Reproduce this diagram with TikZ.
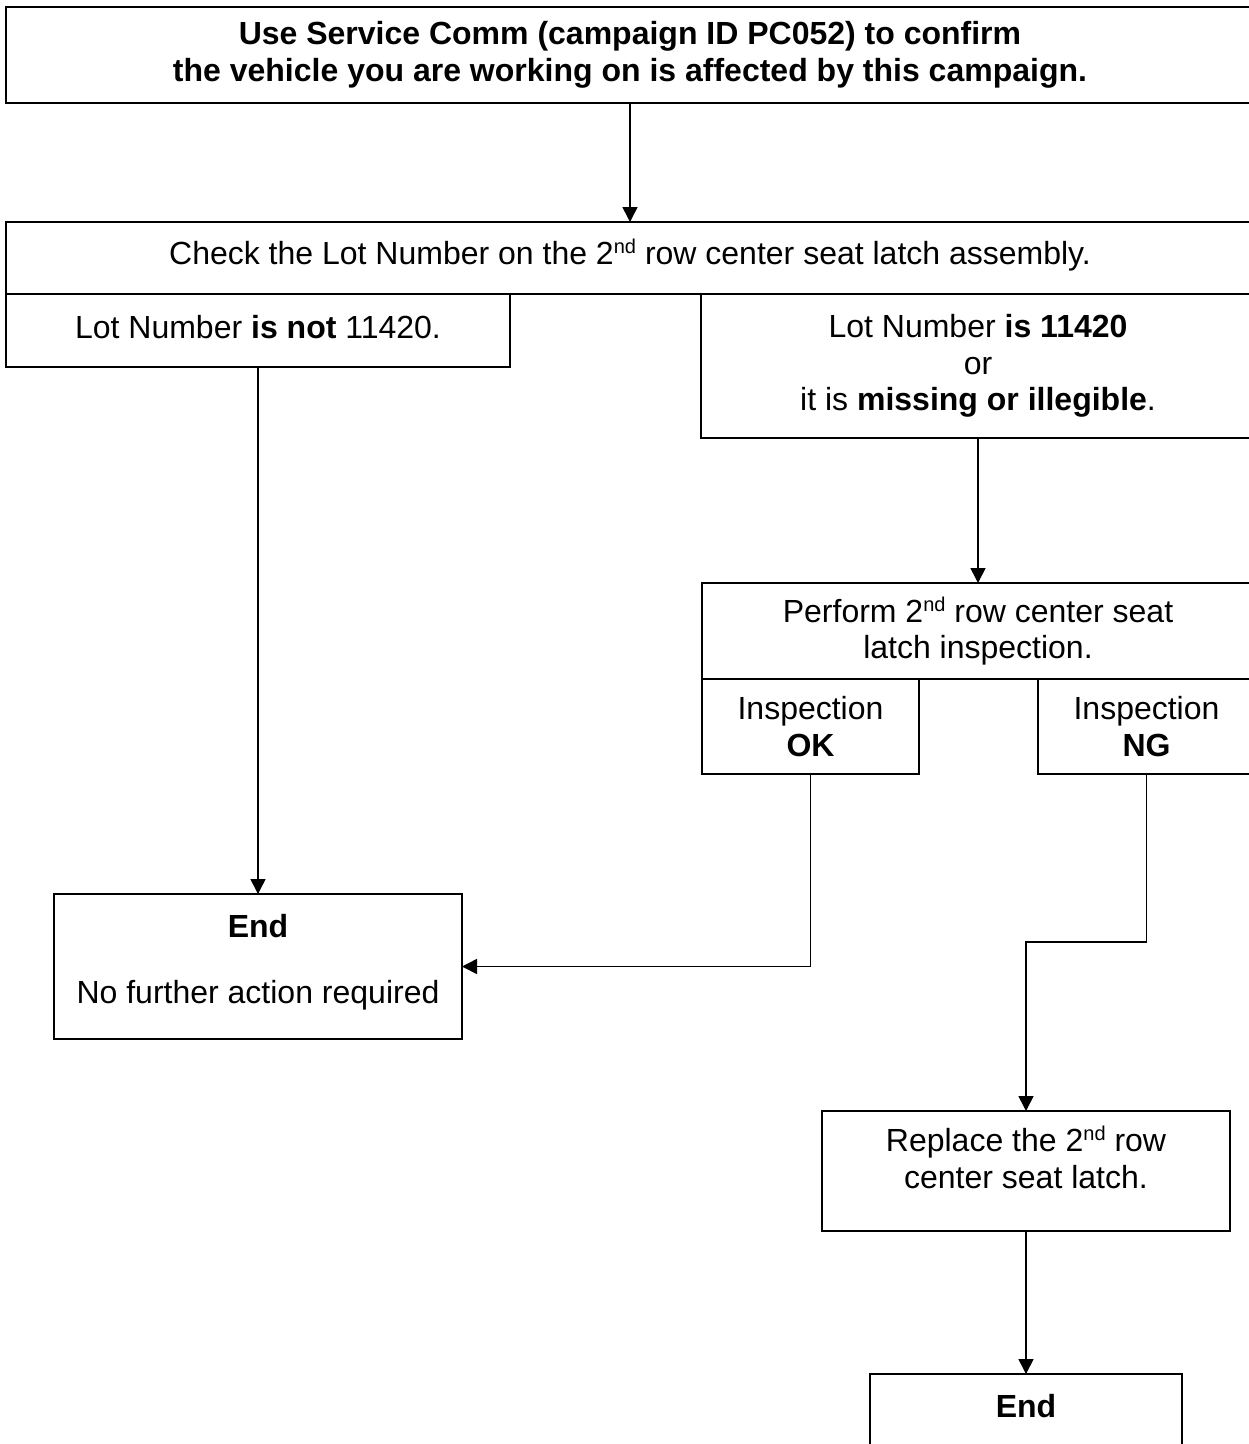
\documentclass[tikz,border=0pt]{standalone}
\usepackage{fontspec}
\setmainfont{Liberation Sans}
\usetikzlibrary{arrows.meta}
\newcommand\supr[1]{\raisebox{11pt}{\fontsize{20}{20}\selectfont #1}}
\begin{document}
\begin{tikzpicture}[x=1pt,y=-1pt,
  box/.style={draw, line width=2.3pt, inner sep=0pt, outer sep=0pt, anchor=north west, align=center, font=\fontsize{32}{36.7}\selectfont},
  arr/.style={line width=1.6pt, -{Triangle[length=15pt,width=15pt]}}]
\useasboundingbox (0,0) rectangle (1249,1444);
\clip (0,0) rectangle (1249,1444);
\node[box, minimum width=1248pt, minimum height=96pt] (top) at (6,7)
  {\textbf{Use Service Comm (campaign ID PC052) to confirm}\\\textbf{the vehicle you are working on is affected by this campaign.}};
\node[box, minimum width=1248pt, minimum height=72pt] (check) at (6,222)
  {Check the Lot Number on the 2\supr{nd} row center seat latch assembly.\rule[-12pt]{0pt}{12pt}};
\node[box, minimum width=504pt, minimum height=73pt] (lotno) at (6,294)
  {Lot Number \textbf{is not} 11420.\rule[-8pt]{0pt}{8pt}};
\node[box, minimum width=554pt, minimum height=144pt] (lotyes) at (701,294)
  {Lot Number \textbf{is 11420}\\or\\it is \textbf{missing or illegible}.};
\node[box, minimum width=552pt, minimum height=96pt] (perf) at (702,583)
  {Perform 2\supr{nd} row center seat\\latch inspection.};
\node[box, minimum width=217pt, minimum height=95pt] (ok) at (702,679)
  {Inspection\\\textbf{OK}};
\node[box, minimum width=217pt, minimum height=95pt] (ng) at (1038,679)
  {Inspection\\\textbf{NG}};
\node[box, minimum width=408pt, minimum height=145pt] (end1) at (54,894)
  {\textbf{End}\\[29.5pt]No further action required\rule[-16pt]{0pt}{16pt}};
\node[box, minimum width=408pt, minimum height=120pt] (rep) at (822,1111)
  {Replace the 2\supr{nd} row\\center seat latch.\rule[-28pt]{0pt}{28pt}};
\node[box, minimum width=312pt, minimum height=145pt] (end2) at (870,1374)
  {\textbf{End}\rule[-82pt]{0pt}{82pt}};
\coordinate (ngturn) at (1146.5,942);
\draw[arr] (top.south) -- (check.north);
\draw[arr] (lotno.south) -- (end1.north);
\draw[arr] (lotyes.south) -- (perf.north);
\draw[arr] (ok.south) |- (end1.east);
\draw[arr] (ng.south) -- (ngturn) -| (rep.north);
\draw[arr] (rep.south) -- (end2.north);
\end{tikzpicture}
\end{document}
